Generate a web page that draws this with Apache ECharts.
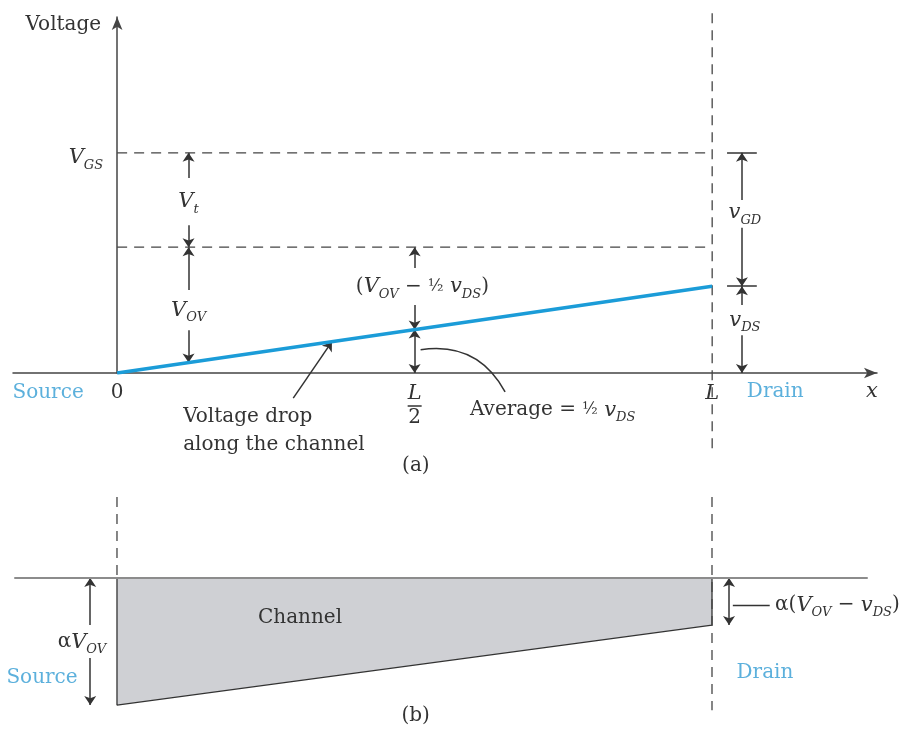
<!DOCTYPE html>
<html><head><meta charset="utf-8">
<script src="https://cdn.jsdelivr.net/npm/echarts@6/dist/echarts.min.js"></script>
<style>html,body{margin:0;padding:0;background:#fff}#c{width:917px;height:740px}</style>
</head><body><div id="c"></div>
<script>
// ---------- data ----------
const xTickValues = [0, 0.5, 1];            // position along channel, in units of L
const xTickLabels = ['0', 'L/2', 'L'];
const VGS = 3.5;                            // gate-source voltage level
const VOVlevel = 2.0;                       // V_GS - V_t level (= V_OV)
const vDS = 1.38;                           // drain-source voltage
const channelPos = [0, 1];                  // source, drain (x / L)
const channelVoltage = [0, 1.38];           // voltage along the channel
const depthPos = [0, 1];                    // source, drain (x / L)
const channelDepth = [1.0, 0.37];           // channel depth, in units of alpha*V_OV

// ---------- styles ----------
const C = '#333333';
const BLUE = '#5cb0dc';
const F = "'DejaVu Serif','Liberation Serif',serif";
const RICH = {
  r: {fontFamily: F, fontSize: 20, color: C},
  m: {fontFamily: F, fontSize: 20, color: C, lineHeight: 28},
  i: {fontFamily: F, fontSize: 21, fontStyle: 'italic', color: C},
  s: {fontFamily: F, fontSize: 13, fontStyle: 'italic', color: C, padding: [15, 0, 0, 0]},
  f: {fontFamily: F, fontSize: 16, color: C},
  bar: {width: 14, height: 1.5, lineHeight: 4, backgroundColor: C},
  b: {fontFamily: F, fontSize: 20, color: BLUE}
};
function tickText(s) {
  if (s === 'L/2') return '{i|L}\n{bar|}\n{r|2}';
  if (s === 'L') return '{i|L}';
  return '{r|' + s + '}';
}
const L = channelPos[1];
const vMid = channelVoltage[1] * 0.5;
const xA = 0.12;          // annotation column near source
const xD = 1.05;          // annotation column beside drain

function lab(text, x, y, extra) {
  const d = {name: text, value: [x, y]};
  if (extra) d.label = extra;
  return d;
}
function seg(a, b, curv) {
  const d = {coords: [a, b]};
  if (curv) d.lineStyle = {curveness: curv};
  return d;
}
const arrowLine = {color: C, width: 1.5, opacity: 1};
const dashStyle = {color: '#444', width: 1.3, type: [10, 7]};
const labelBase = {show: true, position: 'inside', formatter: '{b}', rich: RICH, color: C, opacity: 1, textBorderWidth: 0};

const option = {
  animation: false,
  backgroundColor: '#fff',
  textStyle: {fontFamily: F},
  grid: [
    {left: 13, right: 40, top: 17, bottom: 367, containLabel: false, outerBoundsMode: 'none'},
    {left: 15, right: 50, top: 497, bottom: 15, containLabel: false, outerBoundsMode: 'none'}
  ],
  xAxis: [
    {gridIndex: 0, type: 'value', min: -0.175, max: 1.277,
     splitLine: {show: false}, axisTick: {show: false},
     axisLine: {onZero: true, symbol: ['none', 'arrow'], symbolSize: [8, 13], lineStyle: {color: '#444', width: 1.5}},
     axisLabel: {show: true, customValues: xTickValues, margin: 10, rich: RICH,
       formatter: function (v) {
         const k = xTickValues.findIndex(t => Math.abs(t - v) < 1e-9);
         return k < 0 ? '' : tickText(xTickLabels[k]);
       }},
     name: 'x', nameLocation: 'end', nameGap: -5,
     nameTextStyle: {fontFamily: F, fontSize: 21, fontStyle: 'italic', color: C, align: 'center', verticalAlign: 'top', padding: [8, 0, 0, 0]}
    },
    {gridIndex: 1, type: 'value', min: -0.1714, max: 1.2605, z: 5,
     splitLine: {show: false}, axisTick: {show: false}, axisLabel: {show: false},
     axisLine: {onZero: true, lineStyle: {color: '#8c8c8c', width: 2}}}
  ],
  yAxis: [
    {gridIndex: 0, type: 'value', min: 0, max: 5.66,
     splitLine: {show: false}, axisTick: {show: false}, axisLabel: {show: false},
     axisLine: {onZero: true, symbol: ['none', 'arrow'], symbolSize: [8, 13], lineStyle: {color: '#444', width: 1.5}},
     name: 'Voltage', nameLocation: 'end', nameGap: -8,
     nameTextStyle: {fontFamily: F, fontSize: 20, color: C, align: 'right', verticalAlign: 'middle', padding: [0, 16, 0, 0]}
    },
    {gridIndex: 1, type: 'value', min: -0.638, max: 1.157, inverse: true, show: false}
  ],
  series: [
    // ---- (a) voltage along the channel ----
    {name: 'Voltage along channel', type: 'line', xAxisIndex: 0, yAxisIndex: 0, z: 4,
     data: channelPos.map((x, i) => [x, channelVoltage[i]]), symbol: 'none',
     lineStyle: {color: '#1b9cd8', width: 3.5}},
    {name: 'VGS level', type: 'line', xAxisIndex: 0, yAxisIndex: 0, symbol: 'none',
     data: [[0, VGS], [L, VGS]], lineStyle: dashStyle},
    {name: 'VOV level', type: 'line', xAxisIndex: 0, yAxisIndex: 0, symbol: 'none',
     data: [[0, VOVlevel], [L, VOVlevel]], lineStyle: dashStyle},
    {name: 'x = L (a)', type: 'line', xAxisIndex: 0, yAxisIndex: 0, symbol: 'none', clip: false,
     data: [[L, 5.72], [L, -1.3]], lineStyle: dashStyle},
    {name: 'arrows one end (a)', type: 'lines', coordinateSystem: 'cartesian2d', xAxisIndex: 0, yAxisIndex: 0,
     clip: false, silent: true, symbol: ['none', 'arrow'], symbolSize: 9, lineStyle: arrowLine,
     data: [
       seg([xA, 3.10], [xA, VGS]), seg([xA, 2.35], [xA, VOVlevel]),
       seg([xA, 1.32], [xA, VOVlevel]), seg([xA, 0.68], [xA, xA * vDS]),
       seg([0.5, 1.67], [0.5, VOVlevel]), seg([0.5, 1.08], [0.5, vMid]),
       seg([xD, 2.75], [xD, VGS]), seg([xD, 2.31], [xD, vDS]),
       seg([xD, 1.08], [xD, vDS]), seg([xD, 0.6], [xD, 0]),
       seg([0.296, -0.40], [0.361, 0.361 * vDS])
     ]},
    {name: 'arrows both ends (a)', type: 'lines', coordinateSystem: 'cartesian2d', xAxisIndex: 0, yAxisIndex: 0,
     clip: false, silent: true, symbol: ['arrow', 'arrow'], symbolSize: 9, lineStyle: arrowLine,
     data: [seg([0.5, vMid], [0.5, 0])]},
    {name: 'leaders (a)', type: 'lines', coordinateSystem: 'cartesian2d', xAxisIndex: 0, yAxisIndex: 0,
     clip: false, silent: true, symbol: ['none', 'none'], lineStyle: {color: C, width: 1.5, opacity: 1},
     data: [
       seg([1.025, VGS], [1.075, VGS]), seg([1.025, vDS], [1.075, vDS]),
       seg([0.51, 0.37], [0.652, -0.30], 0.35)
     ]},
    {name: 'labels (a)', type: 'scatter', xAxisIndex: 0, yAxisIndex: 0, clip: false, silent: true,
     symbolSize: 1, itemStyle: {color: 'transparent', opacity: 1},
     label: labelBase,
     data: [
       lab('{i|V}{s|GS}', -0.0235, VGS - 0.08, {align: 'right'}),
       lab('{i|V}{s|t}', xA, 2.72),
       lab('{i|V}{s|OV}', xA, 1.0),
       lab('{r|(}{i|V}{s|OV}{r| − }{f|½}{r| }{i|v}{s|DS}{r|)}', 0.513, 1.37),
       lab('{i|v}{s|GD}', xD + 0.005, 2.545),
       lab('{i|v}{s|DS}', xD + 0.005, 0.84),
       lab('{b|Source}', -0.116, -0.318),
       lab('{b|Drain}', 1.106, -0.30),
       lab('{m|Voltage drop}\n{m|along the channel}', 0.111, -0.92, {align: 'left'}),
       lab('{r|Average = }{f|½}{r| }{i|v}{s|DS}', 0.593, -0.59, {align: 'left'}),
       lab('{r|(a)}', 0.502, -1.48)
     ]},
    // ---- (b) channel shape ----
    {name: 'Channel', type: 'line', xAxisIndex: 1, yAxisIndex: 1, symbol: 'none', z: 2,
     data: [[depthPos[0], 0], [depthPos[0], channelDepth[0]], [depthPos[1], channelDepth[1]], [depthPos[1], 0]],
     lineStyle: {color: '#333', width: 1.3}, areaStyle: {color: '#cfd0d4', opacity: 1}},
    {name: 'x = 0 (b)', type: 'line', xAxisIndex: 1, yAxisIndex: 1, symbol: 'none',
     data: [[0, -0.638], [0, 0]], lineStyle: dashStyle},
    {name: 'x = L (b)', type: 'line', xAxisIndex: 1, yAxisIndex: 1, symbol: 'none',
     data: [[L, -0.638], [L, 1.04]], lineStyle: dashStyle},
    {name: 'arrows one end (b)', type: 'lines', coordinateSystem: 'cartesian2d', xAxisIndex: 1, yAxisIndex: 1,
     clip: false, silent: true, symbol: ['none', 'arrow'], symbolSize: 9, lineStyle: arrowLine,
     data: [seg([-0.045, 0.37], [-0.045, 0]), seg([-0.045, 0.63], [-0.045, 1.0])]},
    {name: 'arrows both ends (b)', type: 'lines', coordinateSystem: 'cartesian2d', xAxisIndex: 1, yAxisIndex: 1,
     clip: false, silent: true, symbol: ['arrow', 'arrow'], symbolSize: 9, lineStyle: arrowLine,
     data: [seg([1.0286, 0], [1.0286, channelDepth[1]])]},
    {name: 'leaders (b)', type: 'lines', coordinateSystem: 'cartesian2d', xAxisIndex: 1, yAxisIndex: 1,
     clip: false, silent: true, symbol: ['none', 'none'], lineStyle: {color: C, width: 1.3, opacity: 1},
     data: [seg([1.035, 0.213], [1.097, 0.213])]},
    {name: 'labels (b)', type: 'scatter', xAxisIndex: 1, yAxisIndex: 1, clip: false, silent: true,
     symbolSize: 1, itemStyle: {color: 'transparent', opacity: 1},
     label: labelBase,
     data: [
       lab('{r|Channel}', 0.3076, 0.315),
       lab('{r|α}{i|V}{s|OV}', -0.059, 0.504),
       lab('{b|Source}', -0.126, 0.787),
       lab('{r|α(}{i|V}{s|OV}{r| − }{i|v}{s|DS}{r|)}', 1.106, 0.213, {align: 'left'}),
       lab('{b|Drain}', 1.089, 0.748),
       lab('{r|(b)}', 0.502, 1.087)
     ]}
  ]
};
const chart = echarts.init(document.getElementById('c'));
chart.setOption(option);
</script>
</body></html>
